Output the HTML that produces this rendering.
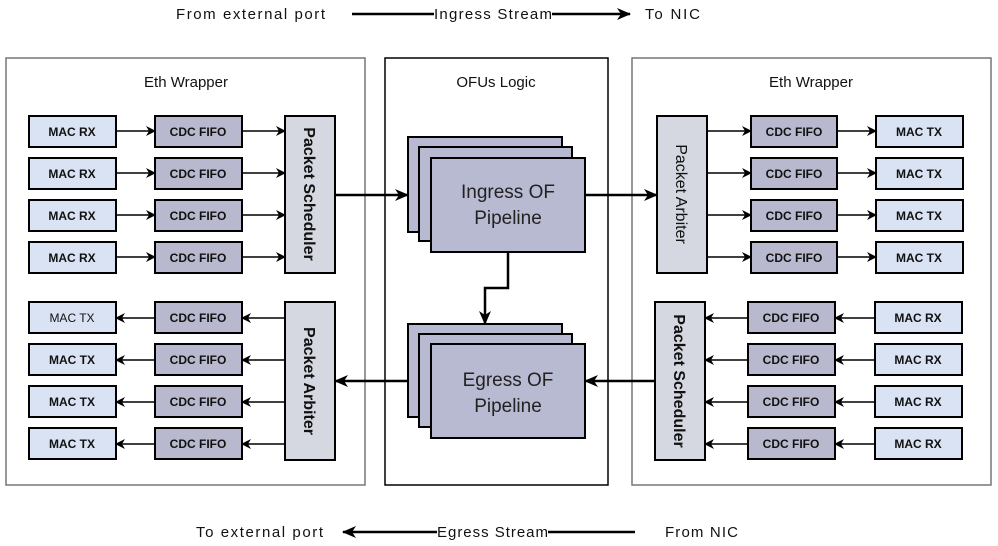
<!DOCTYPE html>
<html><head><meta charset="utf-8"><style>
html,body{margin:0;padding:0;background:#fff;}
svg{display:block;}
text{font-family:"Liberation Sans",sans-serif;}
.b{font-size:12px;font-weight:bold;fill:#111;}
.n{font-size:15px;fill:#111;}
</style></head><body>
<svg width="998" height="546" viewBox="0 0 998 546" xmlns="http://www.w3.org/2000/svg">
<defs>
<marker id="a" markerWidth="10" markerHeight="10" refX="9" refY="5" orient="auto" markerUnits="userSpaceOnUse"><path d="M0,0 L10,5 L0,10 L3,5 z" fill="#000"/></marker>
<marker id="A" markerWidth="14" markerHeight="12" refX="13" refY="6" orient="auto" markerUnits="userSpaceOnUse"><path d="M0,0 L14,6 L0,12 L4,6 z" fill="#000"/></marker>
</defs>
<text class="n" x="176" y="19" textLength="149">From external port</text>
<line x1="352" y1="14" x2="434" y2="14" stroke="#000" stroke-width="2.5"/>
<text class="n" x="434" y="19" textLength="118">Ingress Stream</text>
<line x1="552" y1="14" x2="630" y2="14" stroke="#000" stroke-width="2.5" marker-end="url(#A)"/>
<text class="n" x="645" y="19" textLength="55">To NIC</text>
<text class="n" x="196" y="537" textLength="127">To external port</text>
<line x1="437" y1="532" x2="343" y2="532" stroke="#000" stroke-width="2.5" marker-end="url(#A)"/>
<text class="n" x="437" y="537" textLength="111">Egress Stream</text>
<line x1="548" y1="532" x2="635" y2="532" stroke="#000" stroke-width="2.5"/>
<text class="n" x="665" y="537" textLength="73">From NIC</text>

<rect x="6" y="58" width="359" height="427" fill="#fff" stroke="#777" stroke-width="1.5"/>
<rect x="385" y="58" width="223" height="427" fill="#fff" stroke="#000" stroke-width="1.5"/>
<rect x="632" y="58" width="359" height="427" fill="#fff" stroke="#777" stroke-width="1.5"/>
<text class="n" x="186" y="87" text-anchor="middle">Eth Wrapper</text>
<text class="n" x="496" y="87" text-anchor="middle">OFUs Logic</text>
<text class="n" x="811" y="87" text-anchor="middle">Eth Wrapper</text>

<g stroke="#000" stroke-width="2">
<rect x="29" y="116" width="87" height="31" fill="#dae3f3"/><rect x="155" y="116" width="87" height="31" fill="#b8b9cf"/>
<rect x="29" y="158" width="87" height="31" fill="#dae3f3"/><rect x="155" y="158" width="87" height="31" fill="#b8b9cf"/>
<rect x="29" y="200" width="87" height="31" fill="#dae3f3"/><rect x="155" y="200" width="87" height="31" fill="#b8b9cf"/>
<rect x="29" y="242" width="87" height="31" fill="#dae3f3"/><rect x="155" y="242" width="87" height="31" fill="#b8b9cf"/>
<rect x="285" y="116" width="50" height="157" fill="#d5d8e0"/>
<rect x="29" y="302" width="87" height="31" fill="#dae3f3"/><rect x="155" y="302" width="87" height="31" fill="#b8b9cf"/>
<rect x="29" y="344" width="87" height="31" fill="#dae3f3"/><rect x="155" y="344" width="87" height="31" fill="#b8b9cf"/>
<rect x="29" y="386" width="87" height="31" fill="#dae3f3"/><rect x="155" y="386" width="87" height="31" fill="#b8b9cf"/>
<rect x="29" y="428" width="87" height="31" fill="#dae3f3"/><rect x="155" y="428" width="87" height="31" fill="#b8b9cf"/>
<rect x="285" y="302" width="50" height="158" fill="#d5d8e0"/>
<rect x="657" y="116" width="50" height="157" fill="#d5d8e0"/>
<rect x="751" y="116" width="86" height="31" fill="#b8b9cf"/><rect x="876" y="116" width="87" height="31" fill="#dae3f3"/>
<rect x="751" y="158" width="86" height="31" fill="#b8b9cf"/><rect x="876" y="158" width="87" height="31" fill="#dae3f3"/>
<rect x="751" y="200" width="86" height="31" fill="#b8b9cf"/><rect x="876" y="200" width="87" height="31" fill="#dae3f3"/>
<rect x="751" y="242" width="86" height="31" fill="#b8b9cf"/><rect x="876" y="242" width="87" height="31" fill="#dae3f3"/>
<rect x="655" y="302" width="50" height="158" fill="#d5d8e0"/>
<rect x="748" y="302" width="87" height="31" fill="#b8b9cf"/><rect x="875" y="302" width="87" height="31" fill="#dae3f3"/>
<rect x="748" y="344" width="87" height="31" fill="#b8b9cf"/><rect x="875" y="344" width="87" height="31" fill="#dae3f3"/>
<rect x="748" y="386" width="87" height="31" fill="#b8b9cf"/><rect x="875" y="386" width="87" height="31" fill="#dae3f3"/>
<rect x="748" y="428" width="87" height="31" fill="#b8b9cf"/><rect x="875" y="428" width="87" height="31" fill="#dae3f3"/>
<rect x="408" y="137" width="154" height="95" fill="#b8bad2"/>
<rect x="419" y="147" width="153" height="94" fill="#b8bad2"/>
<rect x="431" y="158" width="154" height="94" fill="#b8bad2"/>
<rect x="408" y="324" width="154" height="93" fill="#b8bad2"/>
<rect x="419" y="334" width="153" height="93" fill="#b8bad2"/>
<rect x="431" y="344" width="154" height="94" fill="#b8bad2"/>
</g>

<g stroke="#000" stroke-width="1.5" fill="none">
<line x1="116" y1="131" x2="155" y2="131" marker-end="url(#a)"/><line x1="242" y1="131" x2="285" y2="131" marker-end="url(#a)"/>
<line x1="116" y1="173" x2="155" y2="173" marker-end="url(#a)"/><line x1="242" y1="173" x2="285" y2="173" marker-end="url(#a)"/>
<line x1="116" y1="215" x2="155" y2="215" marker-end="url(#a)"/><line x1="242" y1="215" x2="285" y2="215" marker-end="url(#a)"/>
<line x1="116" y1="257" x2="155" y2="257" marker-end="url(#a)"/><line x1="242" y1="257" x2="285" y2="257" marker-end="url(#a)"/>
<line x1="155" y1="318" x2="116" y2="318" marker-end="url(#a)"/><line x1="285" y1="318" x2="242" y2="318" marker-end="url(#a)"/>
<line x1="155" y1="360" x2="116" y2="360" marker-end="url(#a)"/><line x1="285" y1="360" x2="242" y2="360" marker-end="url(#a)"/>
<line x1="155" y1="402" x2="116" y2="402" marker-end="url(#a)"/><line x1="285" y1="402" x2="242" y2="402" marker-end="url(#a)"/>
<line x1="155" y1="444" x2="116" y2="444" marker-end="url(#a)"/><line x1="285" y1="444" x2="242" y2="444" marker-end="url(#a)"/>
<line x1="707" y1="131" x2="751" y2="131" marker-end="url(#a)"/><line x1="837" y1="131" x2="876" y2="131" marker-end="url(#a)"/>
<line x1="707" y1="173" x2="751" y2="173" marker-end="url(#a)"/><line x1="837" y1="173" x2="876" y2="173" marker-end="url(#a)"/>
<line x1="707" y1="215" x2="751" y2="215" marker-end="url(#a)"/><line x1="837" y1="215" x2="876" y2="215" marker-end="url(#a)"/>
<line x1="707" y1="257" x2="751" y2="257" marker-end="url(#a)"/><line x1="837" y1="257" x2="876" y2="257" marker-end="url(#a)"/>
<line x1="748" y1="318" x2="705" y2="318" marker-end="url(#a)"/><line x1="875" y1="318" x2="835" y2="318" marker-end="url(#a)"/>
<line x1="748" y1="360" x2="705" y2="360" marker-end="url(#a)"/><line x1="875" y1="360" x2="835" y2="360" marker-end="url(#a)"/>
<line x1="748" y1="402" x2="705" y2="402" marker-end="url(#a)"/><line x1="875" y1="402" x2="835" y2="402" marker-end="url(#a)"/>
<line x1="748" y1="444" x2="705" y2="444" marker-end="url(#a)"/><line x1="875" y1="444" x2="835" y2="444" marker-end="url(#a)"/>
</g>
<g stroke="#000" stroke-width="2.5" fill="none">
<line x1="335" y1="195" x2="408" y2="195" marker-end="url(#A)"/>
<line x1="585" y1="195" x2="657" y2="195" marker-end="url(#A)"/>
<line x1="655" y1="381" x2="585" y2="381" marker-end="url(#A)"/>
<line x1="408" y1="381" x2="335" y2="381" marker-end="url(#A)"/>
<polyline points="508,252 508,288 485,288 485,324" marker-end="url(#A)"/>
</g>

<g text-anchor="middle">
<text class="b" x="72" y="136">MAC RX</text><text class="b" x="198" y="136">CDC FIFO</text>
<text class="b" x="72" y="178">MAC RX</text><text class="b" x="198" y="178">CDC FIFO</text>
<text class="b" x="72" y="220">MAC RX</text><text class="b" x="198" y="220">CDC FIFO</text>
<text class="b" x="72" y="262">MAC RX</text><text class="b" x="198" y="262">CDC FIFO</text>
<text class="b" x="72" y="322" style="font-weight:normal">MAC TX</text><text class="b" x="198" y="322">CDC FIFO</text>
<text class="b" x="72" y="364">MAC TX</text><text class="b" x="198" y="364">CDC FIFO</text>
<text class="b" x="72" y="406">MAC TX</text><text class="b" x="198" y="406">CDC FIFO</text>
<text class="b" x="72" y="448">MAC TX</text><text class="b" x="198" y="448">CDC FIFO</text>
<text class="b" x="794" y="136">CDC FIFO</text><text class="b" x="919" y="136">MAC TX</text>
<text class="b" x="794" y="178">CDC FIFO</text><text class="b" x="919" y="178">MAC TX</text>
<text class="b" x="794" y="220">CDC FIFO</text><text class="b" x="919" y="220">MAC TX</text>
<text class="b" x="794" y="262">CDC FIFO</text><text class="b" x="919" y="262">MAC TX</text>
<text class="b" x="791" y="322">CDC FIFO</text><text class="b" x="918" y="322">MAC RX</text>
<text class="b" x="791" y="364">CDC FIFO</text><text class="b" x="918" y="364">MAC RX</text>
<text class="b" x="791" y="406">CDC FIFO</text><text class="b" x="918" y="406">MAC RX</text>
<text class="b" x="791" y="448">CDC FIFO</text><text class="b" x="918" y="448">MAC RX</text>
</g>
<g text-anchor="middle" fill="#111">
<text transform="translate(304,194) rotate(90)" style="font-size:16px;font-weight:bold">Packet Scheduler</text>
<text transform="translate(304,381) rotate(90)" style="font-size:16px;font-weight:bold">Packet Arbiter</text>
<text transform="translate(676,194) rotate(90)" style="font-size:16px;font-weight:normal">Packet Arbiter</text>
<text transform="translate(674,381) rotate(90)" style="font-size:16px;font-weight:bold">Packet Scheduler</text>
</g>
<g text-anchor="middle" fill="#222">
<text x="508" y="198" style="font-size:19px">Ingress OF</text>
<text x="508" y="224" style="font-size:19px">Pipeline</text>
<text x="508" y="386" style="font-size:19px">Egress OF</text>
<text x="508" y="412" style="font-size:19px">Pipeline</text>
</g>
</svg>
</body></html>
